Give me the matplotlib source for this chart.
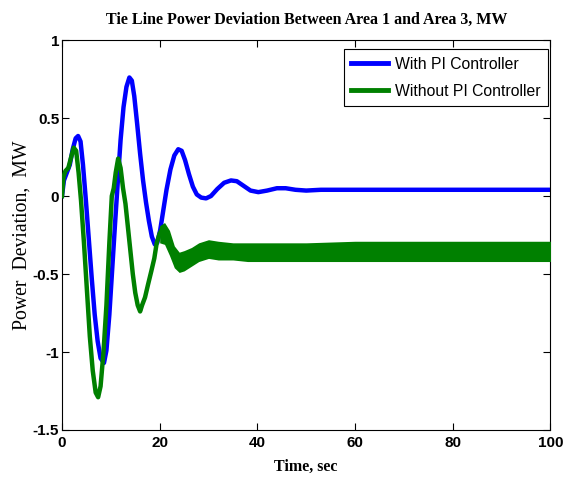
import numpy as np
import matplotlib.pyplot as plt

# with PI controller (blue), keypoints
t_with = [0, 0.4, 1.0, 1.6, 2.2, 2.8, 3.3, 3.8, 4.3, 4.9, 5.5, 6.1, 6.7, 7.3, 7.9,
          8.6, 9.1, 9.7, 10.3, 10.9, 11.4, 12.0, 12.6, 13.2, 13.8, 14.3, 14.8,
          15.4, 16.0, 16.6, 17.2, 17.8, 18.4, 19.0, 19.5, 20.1, 20.7, 21.4,
          22.2, 23.0, 23.8, 24.5, 25.2, 26.0, 26.8, 27.6, 28.5, 29.5, 30.5,
          31.8, 33.2, 34.6, 35.8, 37.2, 38.6, 40.2, 42.0, 44.0, 45.8, 47.8,
          50.0, 53.0, 60.0, 100.0]
v_with = [0.0, 0.10, 0.15, 0.20, 0.30, 0.37, 0.385, 0.35, 0.20, -0.03, -0.28,
          -0.53, -0.76, -0.93, -1.04, -1.07, -0.99, -0.76, -0.46, -0.16, 0.08,
          0.36, 0.57, 0.70, 0.76, 0.74, 0.64, 0.46, 0.27, 0.10, -0.04, -0.16,
          -0.26, -0.31, -0.30, -0.22, -0.10, 0.04, 0.17, 0.26, 0.30, 0.29, 0.23,
          0.14, 0.06, 0.01, -0.01, -0.015, 0.0, 0.045, 0.085, 0.10, 0.095, 0.065,
          0.035, 0.025, 0.035, 0.05, 0.05, 0.04, 0.035, 0.04, 0.04, 0.04]

# without PI controller (green), centre line
t_without = [0, 0.3, 0.7, 1.3, 1.8, 2.4, 2.9, 3.4, 3.9, 4.5, 5.1, 5.7, 6.3, 6.9,
             7.4, 7.9, 8.5, 9.1, 9.7, 10.2, 10.6, 11.0, 11.5, 12.0, 12.5, 13.0,
             13.5, 14.0, 14.5, 15.0, 15.5, 16.0, 16.4, 17.0, 17.6, 18.3, 18.9,
             19.4, 20.0, 20.7, 21.3, 22.0, 22.8, 23.6, 24.4, 25.2, 26.5, 28.0,
             30.0, 32.0, 35.0, 40.0, 100.0]
v_without = [0.0, 0.12, 0.16, 0.18, 0.24, 0.31, 0.29, 0.15, -0.03, -0.30, -0.60,
             -0.90, -1.12, -1.26, -1.29, -1.22, -1.00, -0.70, -0.30, 0.0, 0.05,
             0.15, 0.24, 0.18, 0.05, -0.05, -0.20, -0.35, -0.50, -0.62, -0.70,
             -0.74, -0.70, -0.65, -0.57, -0.48, -0.40, -0.30, -0.24, -0.20, -0.22,
             -0.30, -0.38, -0.43, -0.42, -0.40, -0.38, -0.36, -0.34, -0.34,
             -0.35, -0.36, -0.355]

# envelope of the fast ripple on the green trace
t_band = [20.0, 21.0, 22.0, 23.0, 24.0, 25.0, 26.5, 28.0, 30.0, 32.0, 35.0,
          38.0, 42.0, 50.0, 60.0, 70.0, 80.0, 90.0, 100.0]
band_hi = [-0.19, -0.17, -0.22, -0.32, -0.36, -0.35, -0.33, -0.30, -0.28, -0.29,
           -0.30, -0.30, -0.30, -0.30, -0.29, -0.29, -0.29, -0.29, -0.29]
band_lo = [-0.30, -0.31, -0.38, -0.46, -0.49, -0.48, -0.45, -0.42, -0.40, -0.41,
           -0.41, -0.42, -0.42, -0.42, -0.42, -0.42, -0.42, -0.42, -0.42]

xticks = [0, 20, 40, 60, 80, 100]
yticks = [-1.5, -1, -0.5, 0, 0.5, 1]
ytick_labels = ['-1.5', '-1', '-0.5', '0', '0.5', '1']

fig = plt.figure(figsize=(5.66, 4.82), dpi=100)
ax = fig.add_axes([0.1095, 0.1079, 0.863, 0.809])

ax.plot(t_with, v_with, color='#0000ff', lw=3.2, label='With PI Controller', zorder=2)
ax.plot(t_without, v_without, color='#008000', lw=3.2, label='Without PI Controller', zorder=3)
ax.fill_between(t_band, band_hi, band_lo, color='#008000', lw=0, zorder=3)

ax.set_xlim(0, 100)
ax.set_ylim(-1.5, 1)
ax.set_xticks(xticks)
ax.set_yticks(yticks)
ax.set_yticklabels(ytick_labels)
ax.tick_params(direction='in', top=True, right=True, length=5, width=0.8)
ax.tick_params(axis='x', pad=4)
ax.tick_params(axis='y', pad=2)
for lab in ax.get_xticklabels() + ax.get_yticklabels():
    lab.set_fontfamily('Liberation Sans')
    lab.set_fontweight('bold')
    lab.set_fontsize(11)

ax.set_title('Tie Line Power Deviation Between Area 1 and Area 3, MW',
             family='Liberation Serif', fontweight='bold', fontsize=11.5, pad=12)
ax.set_xlabel('Time, sec', family='Liberation Serif', fontweight='bold', fontsize=11.5, labelpad=7)
ax.set_ylabel('Power  Deviation,  MW', family='Liberation Serif', fontsize=14.2, labelpad=1)

leg = ax.legend(loc='upper right', bbox_to_anchor=(0.995, 0.977), borderaxespad=0,
                prop={'family': 'Liberation Sans', 'size': 11.3},
                handlelength=2.35, fancybox=False, framealpha=1,
                edgecolor='black', handletextpad=0.4, labelspacing=0.75, borderpad=0.5)
leg.get_frame().set_linewidth(0.8)
for h in leg.legend_handles:
    h.set_linewidth(3.5)

fig.savefig('out.png', dpi=100)
